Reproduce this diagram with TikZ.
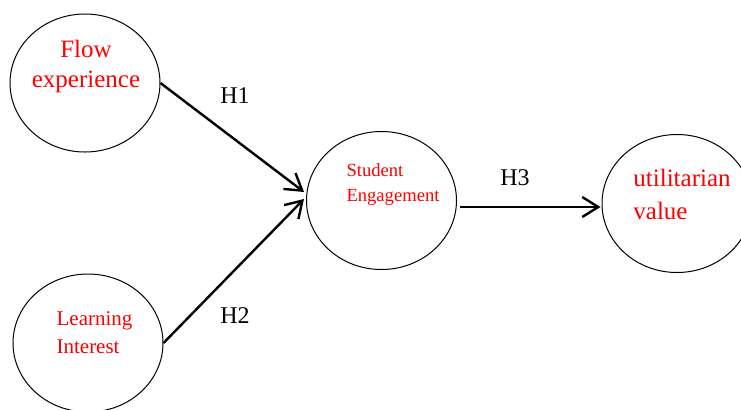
\documentclass[tikz,border=0pt]{standalone}
\usepackage{fontspec}
\setmainfont{Liberation Serif}
\usetikzlibrary{shapes.geometric,arrows.meta}
\tikzset{
  construct/.style={draw, ellipse, line width=0.5pt, minimum width=75pt, minimum height=69pt, inner sep=0pt},
  ctext/.style={text=red, inner sep=0pt},
  path/.style={draw, line width=1.2pt, -{Straight Barb[length=8pt,width=10pt,line width=1.2pt]}},
  hyp/.style={font=\fontsize{12}{14}\selectfont, inner sep=0pt}
}
\begin{document}
\begin{tikzpicture}[x=0.5pt,y=-0.5pt]
        \useasboundingbox (0,0) rectangle (741,409);
        \node[construct] (flow) at (85,83) {};
        \node[ctext, align=center, font=\fontsize{12.5}{15}\selectfont] (flowtxt) at (86,66) {Flow\\experience};

        \node[construct] (interest) at (88,343) {};
        \node[ctext, align=left, font=\fontsize{10.5}{14}\selectfont] (interesttxt) at (94.5,333) {Learning\\Interest};

        \node[construct] (engage) at (381.5,200.5) {};
        \node[ctext, align=left, font=\fontsize{9.3}{12.5}\selectfont] (engagetxt) at (393,185) {Student\\Engagement};

        \node[construct] (value) at (677,203.5) {};
        \node[ctext, align=left, font=\fontsize{12.5}{16.5}\selectfont] (valuetxt) at (682,194) {utilitarian\\value};

        \path[path] (flow.east) -- ([shift={(-2,-8.5)}]engage.west);
        \path[path] (interest.east) -- ([shift={(-2,-1.5)}]engage.west);
        \path[path] ([shift={(3,6.5)}]engage.east) -- ([shift={(-1,3.5)}]value.west);

        \node[hyp] (h1) at (235,96) {H1};
        \node[hyp] (h2) at (235,316) {H2};
        \node[hyp] (h3) at (515,178) {H3};
    \end{tikzpicture}
\end{document}
